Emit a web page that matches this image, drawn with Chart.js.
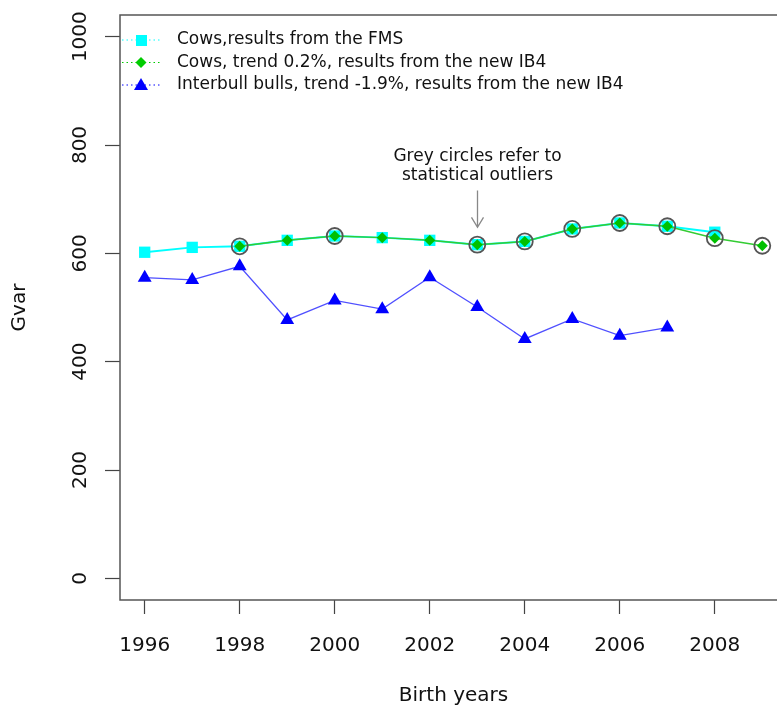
<!DOCTYPE html>
<html lang="en">
<head>
<meta charset="UTF-8">
<title>Gvar by birth year</title>
<script src="https://cdn.jsdelivr.net/npm/chart.js"></script>
<style>
  html, body { margin: 0; padding: 0; background: #fff; overflow: hidden; }
  #box { width: 790px; height: 709px; }
</style>
</head>
<body>
<div id="box"><canvas id="gvarChart" width="790" height="709"></canvas></div>
<script>
// values
const years    = [1996, 1997, 1998, 1999, 2000, 2001, 2002, 2003, 2004, 2005, 2006, 2007, 2008, 2009];
const cowsFms  = [602, 611, 613, 624, 632, 629, 624, 616, 622, 645, 656, 650, 639, null];
const cowsIb4  = [null, null, 613, 624, 632, 629, 624, 616, 622, 645, 656, 650, 628, 614];
const bullsIb4 = [555, 551, 576, 477, 513, 497, 556, 501, 442, 479, 448, 463, null, null];
const outlierYears = [1998, 2000, 2003, 2004, 2005, 2006, 2007, 2008, 2009];

const xTicks = [1996, 1998, 2000, 2002, 2004, 2006, 2008];
const yTicks = [0, 200, 400, 600, 800, 1000];

const legendLabels = [
  'Cows,results from the FMS',
  'Cows, trend 0.2%, results from the new IB4',
  'Interbull bulls, trend -1.9%, results from the new IB4'
];
const noteLines = ['Grey circles refer to', 'statistical outliers'];
const noteYear = 2003;

function toPoints(vals) {
  const pts = [];
  vals.forEach((v, i) => { if (v !== null) pts.push({ x: years[i], y: v }); });
  return pts;
}
const outlierVals = years.map((y, i) => outlierYears.includes(y) ? cowsIb4[i] : null);

Chart.defaults.font.family = "'DejaVu Sans', sans-serif";
Chart.defaults.color = '#111';

const ctx = document.getElementById('gvarChart');

const decor = {
  id: 'decor',
  beforeDatasetsDraw(chart) {
    const { ctx, chartArea: a } = chart;
    ctx.save();
    ctx.strokeStyle = '#555';
    ctx.lineWidth = 1.5;
    ctx.strokeRect(a.left, a.top, a.right - a.left, a.bottom - a.top);
    ctx.restore();
  },
  afterDatasetsDraw(chart) {
    const { ctx } = chart;
    const xs = chart.scales.x, ys = chart.scales.y;
    ctx.save();

    // annotation + arrow
    const ax = Math.round(xs.getPixelForValue(noteYear)) + 0.5;
    ctx.font = "17px 'DejaVu Sans'";
    ctx.fillStyle = '#111';
    ctx.textAlign = 'center';
    ctx.textBaseline = 'middle';
    ctx.fillText(noteLines[0], ax, ys.getPixelForValue(779));
    ctx.fillText(noteLines[1], ax, ys.getPixelForValue(744));
    const top = ys.getPixelForValue(716), tip = ys.getPixelForValue(648);
    ctx.strokeStyle = '#888';
    ctx.lineWidth = 1.3;
    ctx.beginPath();
    ctx.moveTo(ax, top); ctx.lineTo(ax, tip);
    ctx.moveTo(ax - 6, tip - 10); ctx.lineTo(ax, tip); ctx.lineTo(ax + 6, tip - 10);
    ctx.stroke();

    // legend (R style, inside the plot, no box)
    const rows = [40, 62.5, 85];
    const cols = ['#00ffff', '#00cc00', '#0000ff'];
    ctx.textAlign = 'left';
    rows.forEach((ry, i) => {
      ctx.strokeStyle = cols[i];
      ctx.lineWidth = 1;
      ctx.setLineDash([1.5, 3]);
      ctx.beginPath();
      ctx.moveTo(122, ry); ctx.lineTo(160, ry);
      ctx.stroke();
      ctx.setLineDash([]);
      ctx.fillStyle = cols[i];
      ctx.beginPath();
      if (i === 0) {
        ctx.rect(136, ry - 5, 11, 11);
      } else if (i === 1) {
        ctx.moveTo(141, ry - 5.5); ctx.lineTo(146.5, ry); ctx.lineTo(141, ry + 5.5); ctx.lineTo(135.5, ry);
      } else {
        ctx.moveTo(141, ry - 7); ctx.lineTo(148, ry + 5); ctx.lineTo(134, ry + 5);
      }
      ctx.closePath();
      ctx.fill();
      ctx.fillStyle = '#111';
      ctx.fillText(legendLabels[i], 177, ry);
    });
    ctx.restore();
  }
};

new Chart(ctx, {
  type: 'line',
  data: {
    datasets: [
      {
        label: 'outliers',
        data: toPoints(outlierVals),
        showLine: false,
        pointStyle: 'circle',
        pointRadius: 8,
        pointBorderWidth: 1.8,
        pointBorderColor: '#555',
        pointBackgroundColor: 'rgba(0,0,0,0)',
        order: 0
      },
      {
        label: legendLabels[1],
        data: toPoints(cowsIb4),
        borderColor: '#33cc33',
        borderWidth: 1.5,
        pointStyle: 'rectRot',
        pointRadius: 5.5,
        pointBorderWidth: 0,
        pointBackgroundColor: '#00c000',
        order: 1
      },
      {
        label: legendLabels[0],
        data: toPoints(cowsFms),
        borderColor: '#00ffff',
        borderWidth: 2,
        pointStyle: 'rect',
        pointRadius: 8,
        pointBorderWidth: 0,
        pointBackgroundColor: '#00ffff',
        order: 2
      },
      {
        label: legendLabels[2],
        data: toPoints(bullsIb4),
        borderColor: '#5050ff',
        borderWidth: 1.3,
        pointStyle: 'triangle',
        pointRadius: 8,
        pointBorderWidth: 0,
        pointBackgroundColor: '#0000ff',
        order: 3
      }
    ]
  },
  options: {
    responsive: false,
    animation: false,
    devicePixelRatio: 1,
    layout: { padding: { left: 0, top: 15, right: 3, bottom: 0 }, autoPadding: false },
    plugins: { legend: { display: false }, tooltip: { enabled: false } },
    scales: {
      x: {
        type: 'linear',
        min: 1995.48,
        max: 2009.52,
        afterBuildTicks: s => { s.ticks = xTicks.map(v => ({ value: v })); },
        afterFit: s => { s.height = 109; },
        border: { display: false },
        grid: { drawOnChartArea: false, tickLength: 14, color: '#444', tickWidth: 1.2 },
        ticks: { font: { size: 20 }, padding: 20, maxRotation: 0, callback: v => String(v) },
        title: { display: true, text: 'Birth years', font: { size: 20 }, padding: { top: 0, bottom: 1 } }
      },
      y: {
        min: -40,
        max: 1040,
        afterBuildTicks: s => { s.ticks = yTicks.map(v => ({ value: v })); },
        afterFit: s => { s.width = 120; },
        border: { display: false },
        grid: { drawOnChartArea: false, tickLength: 15, color: '#444', tickWidth: 1.2 },
        ticks: { font: { size: 20 }, padding: -1, minRotation: 90, maxRotation: 90, crossAlign: 'center', callback: v => String(v) },
        title: { display: true, text: 'Gvar', font: { size: 20 }, padding: { top: 8, bottom: 0 } }
      }
    }
  },
  plugins: [decor]
});
</script>
</body>
</html>
